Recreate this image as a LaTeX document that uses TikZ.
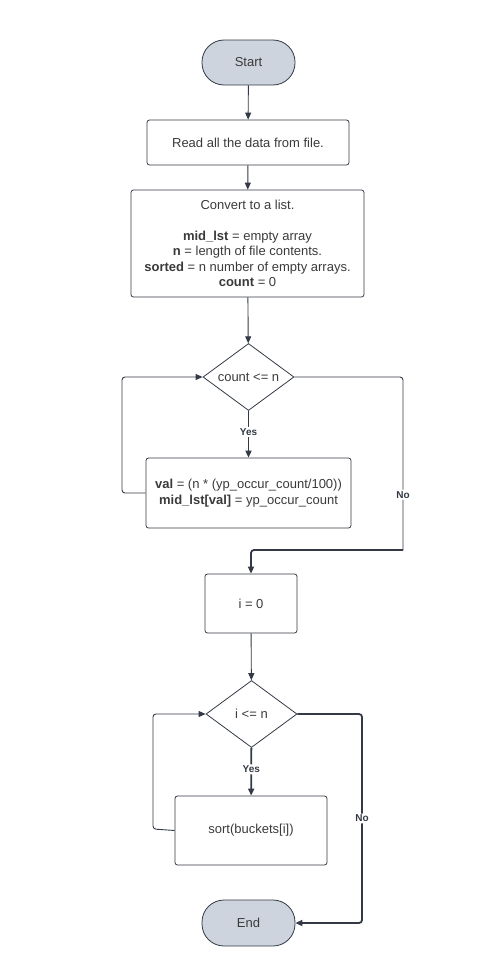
\documentclass[tikz,border=0pt]{standalone}
\usepackage{fontspec}
\setmainfont{Liberation Sans}
\usetikzlibrary{arrows.meta,shapes.geometric}
\definecolor{ln}{HTML}{333A45}
\definecolor{tx}{HTML}{3A3A3A}
\definecolor{term}{HTML}{CED4DD}
\begin{document}
\begin{tikzpicture}[x=1pt,y=-1pt,
  every node/.style={font=\fontsize{13}{15.5}\selectfont, text=tx},
  procbox/.style={draw=ln, line width=0.8pt, rounded corners=2.5pt, inner sep=0pt, align=center},
  termbox/.style={draw=ln, line width=0.8pt, fill=term, rounded corners=22pt, inner sep=0pt},
  decbox/.style={draw=ln, line width=0.8pt, diamond, inner sep=0pt, minimum width=91pt, minimum height=67pt, aspect=1.36},
  conn/.style={draw=ln, line width=0.9pt, rounded corners=3pt, -{Triangle[length=7pt,width=6pt]}},
  plain conn/.style={draw=ln, line width=0.9pt, rounded corners=3pt},
  thick conn/.style={conn, line width=1.8pt},
  lbl/.style={font=\bfseries\fontsize{10}{11}\selectfont, fill=white, inner sep=1.5pt, text=ln}
]
\useasboundingbox (0,0) rectangle (498,977);

\node[termbox, minimum width=93pt, minimum height=45pt] (start) at (248.5,62.5) {Start};
\node[procbox, minimum width=202pt, minimum height=45pt] (read) at (248,142.5) {Read all the data from file.};
\node[procbox, minimum width=233pt, minimum height=107pt] (conv) at (247.5,243.5)
  {Convert to a list.\\[15.5pt]\textbf{mid\_lst} = empty array\\\textbf{n} = length of file contents.\\\textbf{sorted} = n number of empty arrays.\\\textbf{count} = 0};
\node[decbox] (d1) at (248.5,377) {count <= n};
\node[procbox, minimum width=205pt, minimum height=70pt] (val) at (248.5,493)
  {\textbf{val} = (n * (yp\_occur\_count/100))\\\textbf{mid\_lst[val]} = yp\_occur\_count};
\node[procbox, minimum width=92pt, minimum height=59pt] (i0) at (251,603.5) {i = 0};
\node[decbox] (d2) at (251.5,714) {i <= n};
\node[procbox, minimum width=152pt, minimum height=69pt] (sort) at (251,830.5) {sort(buckets[i])};
\node[termbox, minimum width=93pt, minimum height=46pt] (end) at (248.5,923) {End};

\coordinate (l1) at (122,493);
\coordinate (r1) at (403,377);
\coordinate (r1b) at (403,550);
\coordinate (l2) at (153,829);
\coordinate (r2) at (362,714);
\coordinate (r2b) at (362,923);

\draw[conn] (start) -- (read);
\draw[conn] (read) -- (conv);
\draw[conn] (conv) -- (d1);
\draw[thick conn] (d1) -- node[lbl, pos=0.45] {Yes} (val);
\draw[conn] (val.west) -- (l1) |- (d1.west);
\draw[plain conn] (d1.east) -- (r1) -- node[lbl, pos=0.68] {No} (r1b);
\draw[thick conn] (r1b) -| (i0.north);
\draw[conn] (i0) -- (d2);
\draw[thick conn] (d2) -- node[lbl, pos=0.45] {Yes} (sort);
\draw[conn] (sort.west) -- (l2) |- (d2.west);
\draw[thick conn] (d2.east) -- (r2) -- node[lbl, pos=0.5] {No} (r2b) -- (end.east);
\end{tikzpicture}
\end{document}
